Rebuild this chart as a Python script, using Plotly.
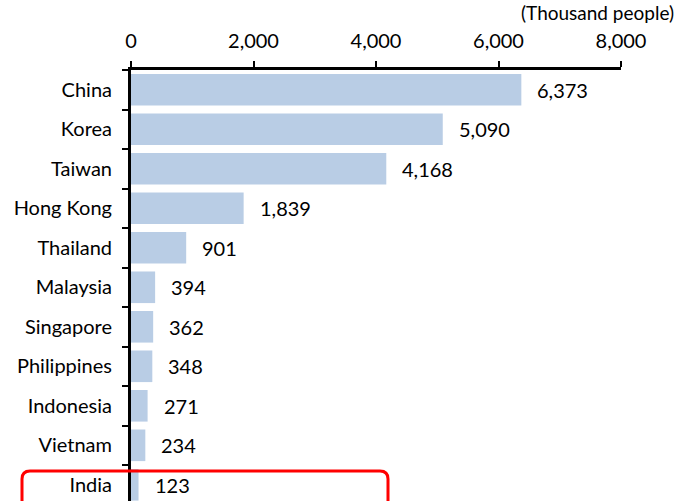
import plotly.graph_objects as go

countries = ["China", "Korea", "Taiwan", "Hong Kong", "Thailand", "Malaysia",
             "Singapore", "Philippines", "Indonesia", "Vietnam", "India"]
values = [6373, 5090, 4168, 1839, 901, 394, 362, 348, 271, 234, 123]
x_ticks = [0, 2000, 4000, 6000, 8000]
unit_label = "(Thousand people)"

FONT = "Lato"
FS = 20
W, H = 677, 501
L, R, T, B = 131, 56, 70, 0
pw, ph = W - L - R, H - T - B

fig = go.Figure()
fig.add_trace(go.Bar(
    x=values, y=countries, orientation="h",
    marker=dict(color="#b9cde5", line=dict(width=0)),
    width=0.8, hoverinfo="skip",
))

for c, v in zip(countries, values):
    fig.add_annotation(x=v, y=c, xref="x", yref="y", text=f"{v:,}",
                       showarrow=False, xanchor="left", yanchor="middle",
                       xshift=14, font=dict(family=FONT, size=FS, color="black"))

fig.add_annotation(x=(675 - L) / pw, y=H / ph, xref="paper", yref="paper",
                   text=unit_label, showarrow=False, xanchor="right", yanchor="top",
                   borderpad=0,
                   font=dict(family=FONT, size=19, color="black"))

# red rounded highlight box (pixel -> paper)
def px(xp):
    return (xp - L) / pw

def py(yp):
    return (H - yp) / ph

x0, x1, yt, yb = px(22), px(388), py(471), py(520)
rx, ry = 8 / pw, 8 / ph
path = (f"M {x0},{yb} L {x0},{yt - ry} Q {x0},{yt} {x0 + rx},{yt} "
        f"L {x1 - rx},{yt} Q {x1},{yt} {x1},{yt - ry} L {x1},{yb}")
fig.add_shape(type="path", path=path, xref="paper", yref="paper",
              line=dict(color="#ff0000", width=3))

fig.update_layout(
    width=W, height=H,
    margin=dict(l=L, r=R, t=T, b=B),
    paper_bgcolor="white", plot_bgcolor="white",
    showlegend=False,
    font=dict(family=FONT, size=FS, color="black"),
    xaxis=dict(side="top", range=[0, 8000], tickvals=x_ticks,
               tickformat=",d", showgrid=False, zeroline=False,
               showline=True, linecolor="black", linewidth=3,
               ticks="outside", ticklen=6, tickwidth=2, tickcolor="black",
               ticklabelstandoff=5, fixedrange=True),
    yaxis=dict(categoryorder="array", categoryarray=countries,
               range=[10.41, -0.5], showgrid=False, zeroline=False,
               showline=True, linecolor="black", linewidth=3,
               ticks="outside", ticklen=6, tickwidth=2, tickcolor="black",
               tickson="boundaries", ticklabelstandoff=12, fixedrange=True),
)

fig.write_html("out.html")
